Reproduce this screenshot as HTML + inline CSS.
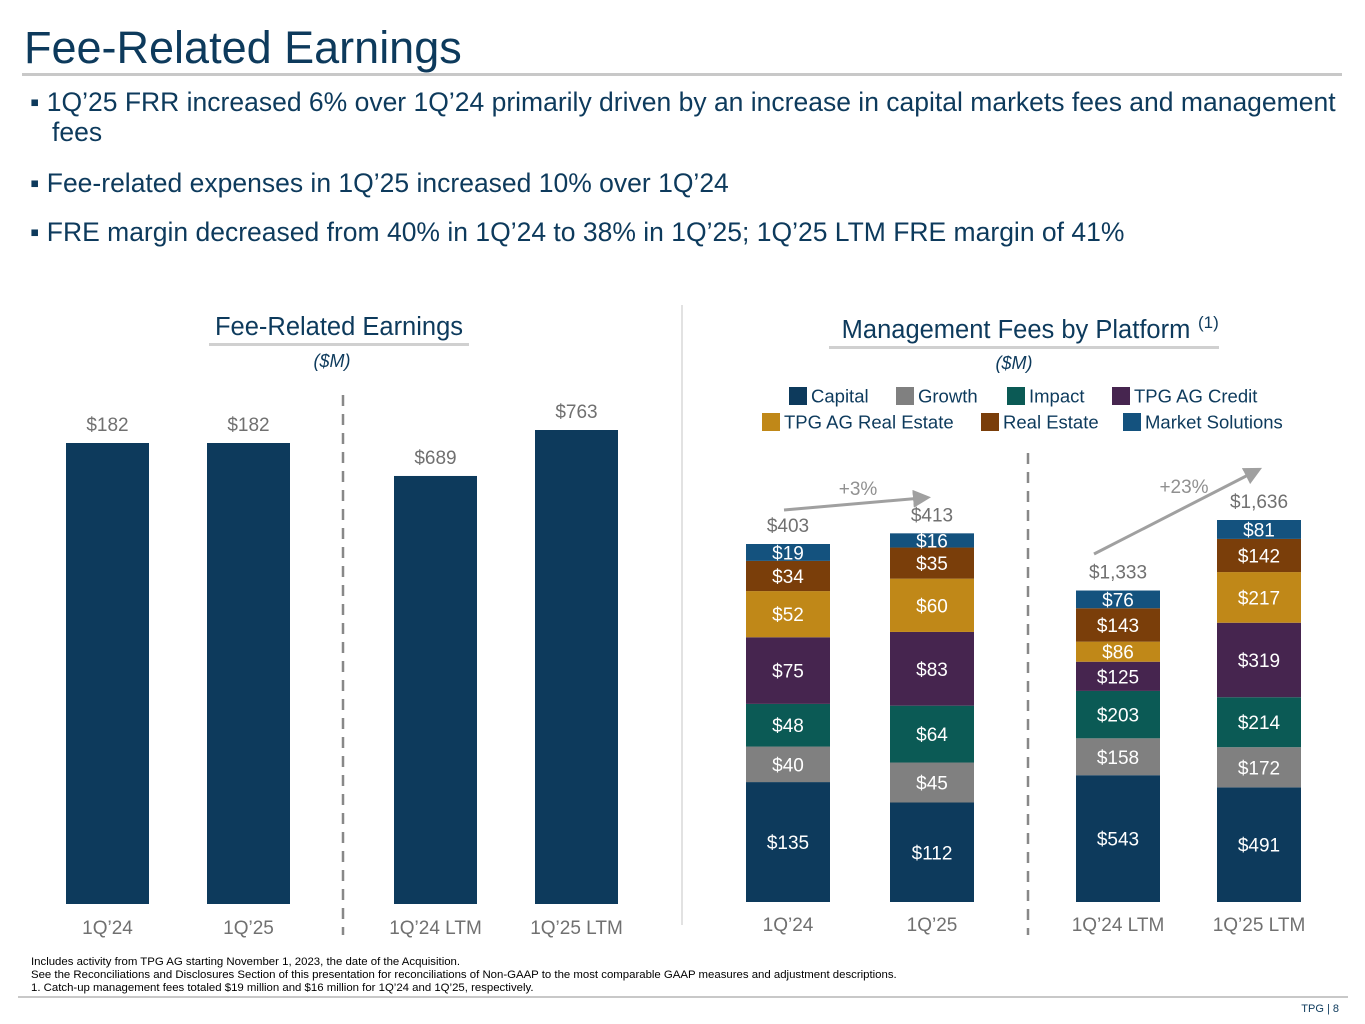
<!DOCTYPE html>
<html><head><meta charset="utf-8"><style>
body{margin:0;width:1365px;height:1024px;background:#fff;font-family:"Liberation Sans",Arial,sans-serif;overflow:hidden;position:relative}
.t{position:absolute}
.b{position:absolute;left:30px;font-size:26.5px;color:#0d3a5c;line-height:30px;white-space:nowrap}
</style></head><body>
<div class="t" style="left:24px;top:22px;font-size:45px;color:#0d3a5c">Fee-Related Earnings</div>
<div class="t" style="left:22px;top:73px;width:1320px;height:3px;background:#c8c8c8"></div>
<div class="b" style="top:87px">▪ 1Q’25 FRR increased 6% over 1Q’24 primarily driven by an increase in capital markets fees and management</div>
<div class="b" style="top:117px;left:52px">fees</div>
<div class="b" style="top:168px">▪ Fee-related expenses in 1Q’25 increased 10% over 1Q’24</div>
<div class="b" style="top:217px">▪ FRE margin decreased from 40% in 1Q’24 to 38% in 1Q’25; 1Q’25 LTM FRE margin of 41%</div>
<svg id="c" width="1365" height="1024" style="position:absolute;left:0;top:0" font-family="Liberation Sans, Arial, sans-serif"></svg>
<div class="t" style="left:31px;top:956px;font-size:11.4px;color:#000;line-height:13px">Includes activity from TPG AG starting November 1, 2023, the date of the Acquisition.<br>See the Reconciliations and Disclosures Section of this presentation for reconciliations of Non-GAAP to the most comparable GAAP measures and adjustment descriptions.<br>1. Catch-up management fees totaled $19 million and $16 million for 1Q’24 and 1Q’25, respectively.</div>
<div class="t" style="left:18px;top:996px;width:1330px;height:2px;background:#c8c8c8"></div>
<div class="t" style="right:26px;top:1003px;font-size:11px;color:#0d3a5c">TPG | 8</div>
<script>
const freCats=["1Q’24","1Q’25","1Q’24 LTM","1Q’25 LTM"];
const freVals=[182,182,689,763];
const mfCats=["1Q’24","1Q’25","1Q’24 LTM","1Q’25 LTM"];
const mfSeries=["Capital","Growth","Impact","TPG AG Credit","TPG AG Real Estate","Real Estate","Market Solutions"];
const mfCapital=[135,112,543,491];
const mfGrowth=[40,45,158,172];
const mfImpact=[48,64,203,214];
const mfCredit=[75,83,125,319];
const mfAgRe=[52,60,86,217];
const mfRe=[34,35,143,142];
const mfMs=[19,16,76,81];
const mfTotals=["$403","$413","$1,333","$1,636"];
const growthLabels=["+3%","+23%"];

const S=document.getElementById('c');const NS="http://www.w3.org/2000/svg";
function el(t,a,txt){const e=document.createElementNS(NS,t);for(const k in a)e.setAttribute(k,a[k]);if(txt!==undefined)e.textContent=txt;S.appendChild(e);return e;}
const colors=["#0d3a5c","#808080","#0b5a55","#46254f","#c08818","#7a3e0a","#14527e"];
let e;
e=el('text',{x:339,y:335,'text-anchor':'middle','font-size':25.5,fill:'#0d3a5c'},'Fee-Related Earnings');

e=el('rect',{x:209,y:343,width:260,height:3,fill:'#d0d0d0'});

e=el('text',{x:332,y:367,'text-anchor':'middle','font-size':18,'font-style':'italic',fill:'#0d3a5c'},'($M)');

e=el('text',{x:1016,y:338,'text-anchor':'middle','font-size':25.5,fill:'#0d3a5c'},'Management Fees by Platform');

e=el('text',{x:1198,y:328,'font-size':17,fill:'#0d3a5c'},'(1)');

e=el('rect',{x:829,y:346,width:390,height:3,fill:'#d0d0d0'});

e=el('text',{x:1014,y:369,'text-anchor':'middle','font-size':18,'font-style':'italic',fill:'#0d3a5c'},'($M)');

e=el('line',{x1:682,y1:305,x2:682,y2:925,stroke:'#d8d8d8','stroke-width':1.5});

e=el('line',{x1:343,y1:395,x2:343,y2:935,stroke:'#888','stroke-width':2.5,'stroke-dasharray':'11,8'});

e=el('line',{x1:1028,y1:453,x2:1028,y2:935,stroke:'#888','stroke-width':2.5,'stroke-dasharray':'11,8'});

const freX=[66,207,394,535],freBase=904;
freVals.forEach((v,i)=>{const sc=i<2?461/182:474/763;const h=v*sc;
 e=el('rect',{x:freX[i],y:freBase-h,width:83,height:h,fill:'#0d3a5c'});
 
 e=el('text',{x:freX[i]+41.5,y:freBase-h-12,'text-anchor':'middle','font-size':19,fill:'#707070'},'$'+v);
 
 e=el('text',{x:freX[i]+41.5,y:934,'text-anchor':'middle','font-size':19,fill:'#707070'},freCats[i]);
 
});
const leg=[[789,396],[896,396],[1007,396],[1112,396],[762,422],[981,422],[1123,422]];
mfSeries.forEach((s,i)=>{
 e=el('rect',{x:leg[i][0],y:leg[i][1]-9,width:18,height:18,fill:colors[i]});
 
 e=el('text',{x:leg[i][0]+22,y:leg[i][1]+6.5,'font-size':18.5,fill:'#0d3a5c'},s);
 
});
const series=[mfCapital,mfGrowth,mfImpact,mfCredit,mfAgRe,mfRe,mfMs];
const mfX=[746,890,1076,1217],mfBase=902;
mfCats.forEach((c,i)=>{const sc=i<2?358/403:382/1636;let y=mfBase;
 series.forEach((arr,j)=>{const h=arr[i]*sc;y-=h;
  e=el('rect',{x:mfX[i],y:y,width:84,height:h,fill:colors[j]});
  
  e=el('text',{x:mfX[i]+42,y:y+h/2+7,'text-anchor':'middle','font-size':19,fill:'#fff'},'$'+arr[i]);
  
 });
 e=el('text',{x:mfX[i]+42,y:y-12,'text-anchor':'middle','font-size':19,fill:'#707070'},mfTotals[i]);
 
 e=el('text',{x:mfX[i]+42,y:931,'text-anchor':'middle','font-size':19,fill:'#707070'},c);
 
});
el('defs',{}).innerHTML='<marker id="ah" markerWidth="6" markerHeight="6" refX="3" refY="3" orient="auto"><path d="M0,0 L6,3 L0,6z" fill="#a0a0a0"/></marker>';
e=el('line',{x1:784,y1:510,x2:922,y2:498,stroke:'#a0a0a0','stroke-width':3,'marker-end':'url(#ah)'});

e=el('text',{x:858,y:495,'text-anchor':'middle','font-size':19,fill:'#909090'},growthLabels[0]);

e=el('line',{x1:1094,y1:554,x2:1254,y2:472,stroke:'#a0a0a0','stroke-width':3,'marker-end':'url(#ah)'});

e=el('text',{x:1184,y:493,'text-anchor':'middle','font-size':19,fill:'#909090'},growthLabels[1]);

</script>
</body></html>
